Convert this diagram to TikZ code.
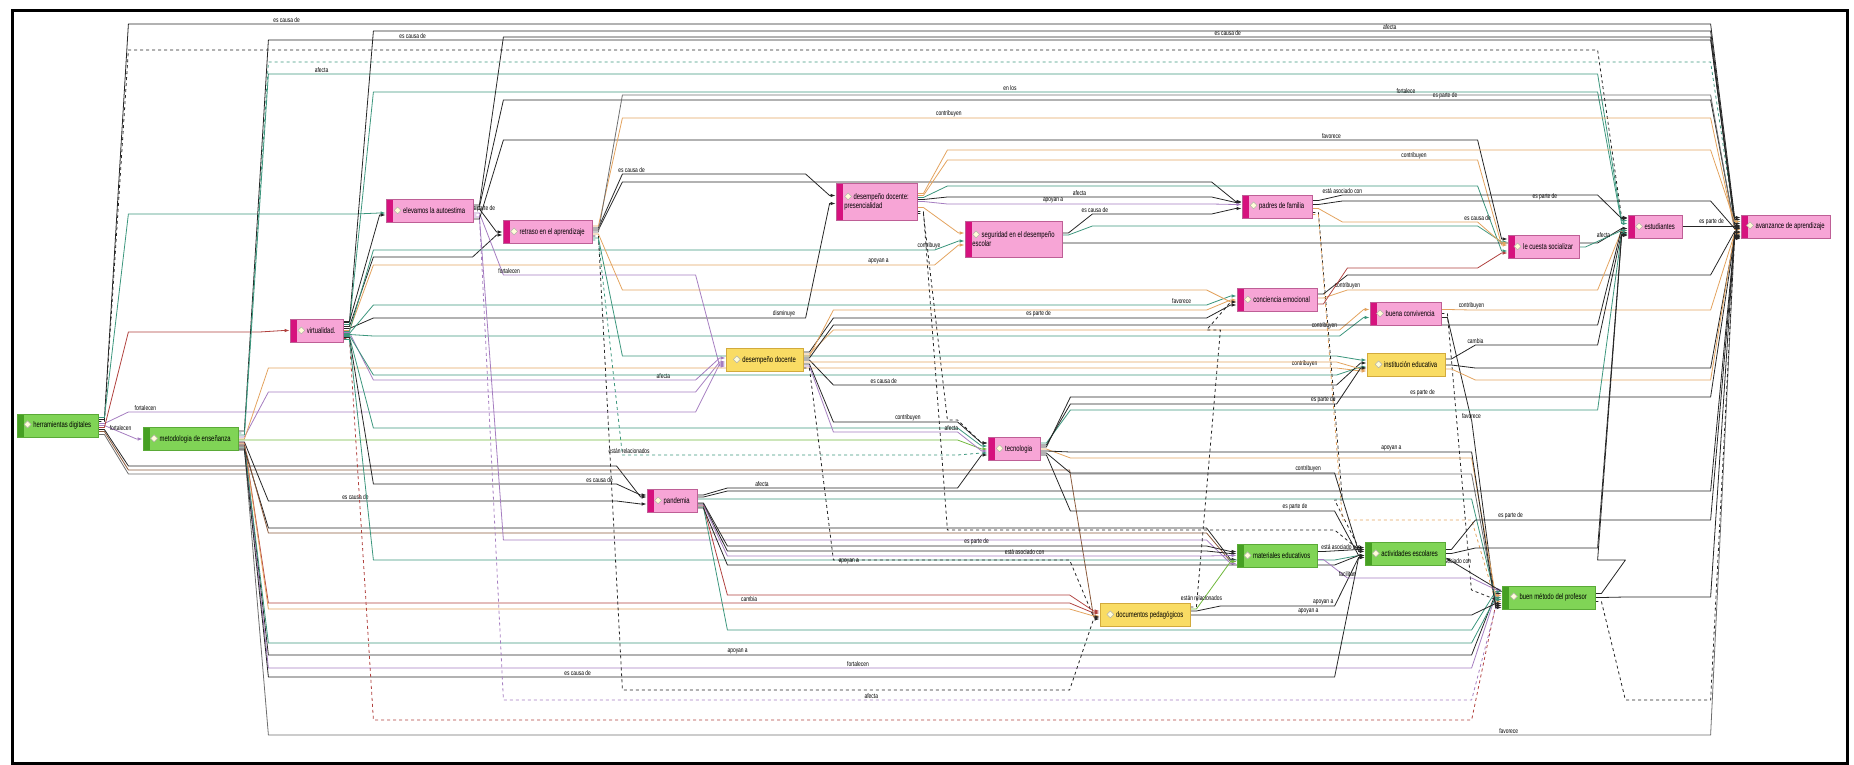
\documentclass[tikz,border=0pt]{standalone}
\usepackage{fontspec}
\usetikzlibrary{arrows.meta, calc, backgrounds}

\newfontfamily\netfont{Liberation Sans}[FakeStretch=0.72]
\newfontfamily\diafont{DejaVu Sans}

\definecolor{gfill}{RGB}{128,212,86}
\definecolor{gbar}{RGB}{70,160,35}
\definecolor{gline}{RGB}{90,170,55}
\definecolor{pfill}{RGB}{247,165,214}
\definecolor{pbar}{RGB}{214,18,126}
\definecolor{pline}{RGB}{190,95,150}
\definecolor{yfill}{RGB}{249,220,100}
\definecolor{ybar}{RGB}{242,175,30}
\definecolor{yline}{RGB}{210,170,60}
\definecolor{lpurple}{RGB}{165,125,192}
\definecolor{lorange}{RGB}{227,163,95}
\definecolor{lteal}{RGB}{60,150,125}
\definecolor{lred}{RGB}{176,65,62}
\definecolor{lgreen}{RGB}{112,184,60}
\definecolor{lbrown}{RGB}{139,90,60}
\definecolor{lgray}{RGB}{110,110,110}

\newcommand{\codeicon}{{\diafont\fontsize{10}{10}\selectfont
  \rlap{\textcolor{white!85!yellow}{◆}}\textcolor{black!40}{◇}}\ }

% routed relation: source, target, lane (y), label, label pos
\newcommand{\netrel}[6][]{%
  \path (#2) ++(6,0) coordinate (s0) ++(24,0) coordinate (s1)
        (#3) ++(-6,0) coordinate (t0) ++(-24,0) coordinate (t1);
  \draw[arr,#1] (#2) -- (s0) -- (s1 |- 0,#4)
     -- node[lbl,pos=#6]{#5} (t1 |- 0,#4) -- (t0) -- (#3);
}
% short relation between neighbours
\newcommand{\netdir}[5][]{%
  \path (#2) ++(6,0) coordinate (s0) (#3) ++(-6,0) coordinate (t0);
  \draw[arr,#1] (#2) -- (s0) -- node[lbl,pos=#5]{#4} (t0) -- (#3);
}

\begin{document}
\begin{tikzpicture}[
    x=1pt, y=-1pt,
    codebox/.style={draw, line width=0.8pt, minimum height=23pt, inner xsep=4pt,
                    align=left, font=\netfont\fontsize{8.2}{9.5}\selectfont},
    gnode/.style={codebox, fill=gfill, draw=gline, path picture={\fill[gbar]
        (path picture bounding box.south west) rectangle ([xshift=7pt]path picture bounding box.north west);}},
    pnode/.style={codebox, fill=pfill, draw=pline, path picture={\fill[pbar]
        (path picture bounding box.south west) rectangle ([xshift=7pt]path picture bounding box.north west);}},
    ynode/.style={codebox, fill=yfill, draw=yline, path picture={\fill[ybar]
        (path picture bounding box.south west) rectangle ([xshift=7pt]path picture bounding box.north west);}},
    lbl/.style={font=\netfont\fontsize{6.8}{7.5}\selectfont, anchor=south, inner sep=0.8pt, text=black},
    arr/.style={-{Latex[length=5pt,width=3.5pt]}, line width=0.8pt, draw=black!85, line join=round}
]
\useasboundingbox (0,0) rectangle (1854,765);
\draw[line width=3pt] (12,11) rectangle (1847,763);

% ============================================================
% codes
% ============================================================
\node[gnode, minimum width=81] (hd)   at (57.5,425.5) {\codeicon herramientas digitales};
\node[gnode, minimum width=95] (met)  at (190.5,439)  {\codeicon metodologia de enseñanza};
\node[pnode, minimum width=53] (vir)  at (316.5,330.5){\codeicon virtualidad.};
\node[pnode, minimum width=87] (auto) at (429.5,211)  {\codeicon elevamos la autoestima};
\node[pnode, minimum width=89] (ret)  at (547.5,232)  {\codeicon retraso en el aprendizaje};
\node[ynode, minimum width=77] (dd)   at (764.5,360)  {\codeicon desempeño docente};
\node[pnode, minimum width=81, minimum height=37] (ddp) at (876.5,201.5) {\codeicon desempeño docente:\\presencialidad};
\node[pnode, minimum width=97, minimum height=36] (seg) at (1013.5,239) {\codeicon seguridad en el desempeño\\escolar};
\node[pnode, minimum width=70] (pf)   at (1277,206.5) {\codeicon padres de familia};
\node[pnode, minimum width=80] (ce)   at (1277,300)   {\codeicon conciencia emocional};
\node[pnode, minimum width=71] (bc)   at (1405.5,313.5){\codeicon buena convivencia};
\node[ynode, minimum width=78] (ie)   at (1406,365)   {\codeicon institución educativa};
\node[pnode, minimum width=71] (lcs)  at (1543.5,247) {\codeicon le cuesta socializar};
\node[pnode, minimum width=54] (est)  at (1655,226.5) {\codeicon estudiantes};
\node[pnode, minimum width=89] (av)   at (1785.5,226.5){\codeicon avanzance de aprendizaje};
\node[pnode, minimum width=50] (pan)  at (672,501)    {\codeicon pandemia};
\node[pnode, minimum width=52] (tec)  at (1014,449)   {\codeicon tecnologia};
\node[gnode, minimum width=80] (mat)  at (1277,555.5) {\codeicon materiales educativos};
\node[ynode, minimum width=90] (doc)  at (1145,615)   {\codeicon documentos pedagógicos};
\node[gnode, minimum width=80] (act)  at (1405,553.5) {\codeicon actividades escolares};
\node[gnode, minimum width=93] (bmp)  at (1548.5,597.5){\codeicon buen método del profesor};

\begin{scope}[on background layer]
% ============================================================
% herramientas digitales
% ============================================================
\netrel{[yshift=6pt]hd.east}{[yshift=9pt]av.west}{24}{es causa de}{0.1}
\netrel[dashed]{[yshift=4pt]hd.east}{[yshift=9pt]est.west}{50}{}{.5}
\netrel[lpurple]{[yshift=2pt]hd.east}{[yshift=-4pt]dd.west}{412}{fortalecen}{0.03}
\netdir[lpurple]{hd.east}{met.west}{fortalecen}{0.5}
\netrel[lteal]{[yshift=8pt]hd.east}{[yshift=-2pt]auto.west}{214}{}{.5}
\netrel[lred]{[yshift=-2pt]hd.east}{vir.west}{332}{}{.5}
\netrel{[yshift=-4pt]hd.east}{[yshift=4pt]pan.west}{466}{}{.5}
\netrel[lbrown]{[yshift=-6pt]hd.east}{[yshift=-2pt]doc.west}{470}{}{.5}
\netrel[lgray]{[yshift=-9pt]hd.east}{[yshift=-6pt]bmp.west}{474}{}{.5}

% ============================================================
% metodologia de enseñanza
% ============================================================
\netrel{[yshift=8pt]met.east}{[yshift=7pt]av.west}{40}{es causa de}{0.1}
\netrel[dashed,lteal]{[yshift=6pt]met.east}{[yshift=5pt]av.west}{62}{}{.5}
\netrel[lteal]{[yshift=4pt]met.east}{[yshift=6pt]est.west}{74}{afecta}{0.04}
\netrel[lpurple]{[yshift=2pt]met.east}{[yshift=-2pt]dd.west}{392}{}{.5}
\netrel[lorange]{met.east}{[yshift=-6pt]ie.west}{368}{contribuyen}{0.97}
\netrel[lgreen]{[yshift=-1pt]met.east}{tec.west}{440}{}{.5}
\netrel{[yshift=-3pt]met.east}{[yshift=-3pt]pan.west}{501}{es causa de}{0.25}
\netrel[lred]{[yshift=-4pt]met.east}{[yshift=2pt]doc.west}{603}{cambia}{0.6}
\netrel[lorange]{[yshift=-5pt]met.east}{[yshift=-1pt]doc.west}{609}{}{.5}
\netrel{[yshift=-6pt]met.east}{[yshift=4pt]bmp.west}{655}{apoyan a}{0.39}
\netrel[lpurple]{[yshift=-7pt]met.east}{[yshift=2pt]bmp.west}{668}{fortalecen}{0.49}
\netrel[lteal]{[yshift=-8pt]met.east}{bmp.west}{643}{}{.5}
\netrel[lgray]{[yshift=-9pt]met.east}{[yshift=-8pt]av.west}{735}{favorece}{0.86}
\netrel{[yshift=-10pt]met.east}{[yshift=-4pt]mat.west}{528}{}{.5}
\netrel[lbrown]{[yshift=-7pt]met.east}{[yshift=-6pt]mat.west}{533}{}{.5}
\netrel{[yshift=-11pt]met.east}{[yshift=-4pt]act.west}{677}{es causa de}{0.29}

% ============================================================
% virtualidad
% ============================================================
\netrel{[yshift=8pt]vir.east}{[yshift=3pt]av.west}{31}{afecta}{0.76}
\netrel[lteal]{[yshift=6pt]vir.east}{[yshift=3pt]est.west}{92}{en los}{0.52}
\netrel{[yshift=4pt]vir.east}{[yshift=-3pt]ret.west}{257}{}{.5}
\netdir{[yshift=9pt]vir.east}{[yshift=-4pt]auto.west}{}{.5}
\netrel{[yshift=2pt]vir.east}{[yshift=-2pt]ddp.west}{318}{disminuye}{0.95}
\netrel[lorange]{vir.east}{[yshift=-6pt]seg.west}{265}{apoyan a}{0.9}
\netrel[lteal]{[yshift=-1pt]vir.east}{[yshift=-2pt]seg.west}{250}{contribuye}{0.99}
\netrel[lpurple]{[yshift=-2pt]vir.east}{[yshift=2pt]dd.west}{380}{afecta}{0.9}
\netrel[lteal]{[yshift=-3pt]vir.east}{[yshift=4pt]ce.west}{305}{favorece}{0.97}
\netrel[lteal]{[yshift=-4pt]vir.east}{[yshift=-4pt]bc.west}{336}{}{.5}
\netrel[lteal]{[yshift=-5pt]vir.east}{[yshift=-2pt]ie.west}{375}{}{.5}
\netrel[lteal]{[yshift=-6pt]vir.east}{[yshift=3pt]tec.west}{428}{}{.5}
\netrel{[yshift=-7pt]vir.east}{[yshift=6pt]pan.west}{484}{es causa de}{0.93}
\netrel[dashed,lred]{[yshift=-8pt]vir.east}{[yshift=-8pt]bmp.west}{720}{}{.5}
\netrel[lteal]{[yshift=-9pt]vir.east}{[yshift=-2pt]act.west}{560}{}{.5}

% ============================================================
% elevamos la autoestima / retraso en el aprendizaje
% ============================================================
\netrel{[yshift=6pt]auto.east}{[yshift=1pt]av.west}{37}{es causa de}{0.6}
\netrel{[yshift=4pt]auto.east}{[yshift=-1pt]av.west}{100}{es parte de}{0.78}
\netdir{[yshift=2pt]auto.east}{ret.west}{es parte de}{0.2}
\netrel[lpurple]{[yshift=-2pt]auto.east}{[yshift=-6pt]dd.west}{275}{fortalecen}{0.03}
\netrel[dashed,lpurple]{[yshift=-4pt]auto.east}{[yshift=-10pt]bmp.west}{700}{afecta}{0.38}
\netrel[lpurple]{[yshift=-6pt]auto.east}{[yshift=-8pt]mat.west}{540}{}{.5}
\netrel{[yshift=-8pt]auto.east}{[yshift=8pt]lcs.west}{140}{favorece}{0.85}

\netrel[lorange]{[yshift=6pt]ret.east}{[yshift=-3pt]av.west}{118}{contribuyen}{0.3}
\netrel{[yshift=4pt]ret.east}{[yshift=6pt]ddp.west}{174}{es causa de}{0.05}
\netrel{[yshift=2pt]ret.east}{[yshift=5pt]pf.west}{182}{}{.5}
\netrel[lgray]{ret.east}{[yshift=-2pt]av.west}{95}{fortalece}{0.72}
\netrel[lorange]{[yshift=-2pt]ret.east}{[yshift=-2pt]ce.west}{290}{}{.5}
\netrel[dashed]{[yshift=-4pt]ret.east}{[yshift=-4pt]doc.west}{690}{}{.5}
\netrel[lteal]{[yshift=-6pt]ret.east}{[yshift=5pt]ie.west}{356}{}{.5}
\netrel[dashed,lteal]{[yshift=-8pt]ret.east}{[yshift=-4pt]tec.west}{455}{están relacionados}{0.02}

% ============================================================
% desempeño docente: presencialidad / seguridad
% ============================================================
\netrel[lorange]{[yshift=8pt]ddp.east}{[yshift=5pt]av.west}{150}{}{.5}
\netrel[lorange]{[yshift=6pt]ddp.east}{[yshift=2pt]lcs.west}{160}{contribuyen}{0.88}
\netrel[lteal]{[yshift=4pt]ddp.east}{[yshift=-4pt]lcs.west}{186}{}{.5}
\netrel{[yshift=2pt]ddp.east}{[yshift=4pt]pf.west}{197}{afecta}{0.5}
\netrel[lpurple]{ddp.east}{[yshift=2pt]pf.west}{204}{apoyan a}{0.4}
\netdir[lorange]{[yshift=-6pt]ddp.east}{[yshift=6pt]seg.west}{}{.5}
\netrel[dashed]{[yshift=-10pt]ddp.east}{[yshift=4pt]act.west}{530}{}{.5}
\netrel[dashed]{[yshift=-12pt]ddp.east}{[yshift=6pt]tec.west}{420}{}{.5}

\netrel{[yshift=6pt]seg.east}{[yshift=-2pt]pf.west}{214}{es causa de}{0.02}
\netrel{[yshift=-4pt]seg.east}{[yshift=-2pt]est.west}{243}{}{.5}
\netrel[lteal]{[yshift=4pt]seg.east}{[yshift=5pt]lcs.west}{226}{}{.5}

% ============================================================
% padres, conciencia, convivencia, institucion
% ============================================================
\netrel{[yshift=6pt]pf.east}{[yshift=8pt]est.west}{195}{está asociado con}{0}
\netrel{[yshift=2pt]pf.east}{[yshift=-2pt]av.west}{201}{es parte de}{0.55}
\netrel[lorange]{[yshift=-2pt]pf.east}{[yshift=4pt]lcs.west}{222}{es causa de}{1}
\netrel[dashed]{[yshift=-6pt]pf.east}{[yshift=6pt]act.west}{500}{}{.5}
\netrel[dashed,lorange]{[yshift=-8pt]pf.east}{[yshift=-4pt]bmp.west}{520}{}{.5}

\netrel{[yshift=6pt]ce.east}{[yshift=-5pt]av.west}{275}{}{.5}
\netrel[lorange]{[yshift=2pt]ce.east}{[yshift=-4pt]est.west}{290}{contribuyen}{0}
\netrel[lred]{[yshift=-4pt]ce.east}{[yshift=-6pt]lcs.west}{268}{}{.5}

\netrel[lorange]{[yshift=4pt]bc.east}{[yshift=-7pt]av.west}{310}{contribuyen}{0}
\netrel{[yshift=-4pt]bc.east}{[yshift=-8pt]bmp.west}{420}{favorece}{0}
\netrel[dashed]{bc.east}{[yshift=-2pt]bmp.west}{590}{}{.5}

\netrel{[yshift=6pt]ie.east}{[yshift=-6pt]est.west}{345}{cambia}{0}
\netrel{ie.east}{[yshift=-9pt]av.west}{368}{}{.5}
\netrel[lorange]{[yshift=-4pt]ie.east}{[yshift=-6pt]av.west}{380}{}{.5}

% ============================================================
% desempeño docente
% ============================================================
\netrel{[yshift=8pt]dd.east}{[yshift=-5pt]ce.west}{318}{es parte de}{0.55}
\netrel[lorange]{[yshift=6pt]dd.east}{[yshift=4pt]bc.west}{330}{contribuyen}{0.97}
\netrel[lorange]{[yshift=4pt]dd.east}{ce.west}{310}{}{.5}
\netrel{[yshift=2pt]dd.east}{[yshift=-2pt]est.west}{325}{}{.5}
\netrel{dd.east}{[yshift=2pt]ie.west}{385}{es causa de}{0.1}
\netrel[lorange]{[yshift=-2pt]dd.east}{[yshift=-4pt]ie.west}{362}{}{.5}
\netrel{[yshift=-4pt]dd.east}{[yshift=6pt]tec.west}{422}{contribuyen}{0.6}
\netrel[lpurple]{[yshift=-6pt]dd.east}{[yshift=-2pt]tec.west}{432}{afecta}{0.95}
\netrel[dashed]{[yshift=-8pt]dd.east}{[yshift=-2pt]doc.west}{560}{}{.5}

% ============================================================
% pandemia / tecnologia
% ============================================================
\netrel{[yshift=6pt]pan.east}{[yshift=-6pt]tec.west}{488}{afecta}{0.15}
\netrel{[yshift=4pt]pan.east}{[yshift=-10pt]av.west}{491}{}{.5}
\netrel[lteal]{[yshift=2pt]pan.east}{[yshift=-2pt]bmp.west}{499}{}{.5}
\netrel{[yshift=-2pt]pan.east}{[yshift=4pt]mat.west}{546}{es parte de}{0.52}
\netrel{[yshift=-3pt]pan.east}{[yshift=2pt]mat.west}{551}{}{.5}
\netrel[lpurple]{[yshift=-4pt]pan.east}{mat.west}{556}{está asociado con}{0.62}
\netrel[lred]{[yshift=-5pt]pan.east}{[yshift=4pt]doc.west}{595}{}{.5}
\netrel[lteal]{[yshift=-6pt]pan.east}{[yshift=6pt]bmp.west}{630}{}{.5}
\netrel{[yshift=-7pt]pan.east}{[yshift=-2pt]act.west}{565}{apoyan a}{0.2}

\netrel[lteal]{[yshift=6pt]tec.east}{[yshift=-7pt]est.west}{410}{}{.5}
\netrel{[yshift=4pt]tec.east}{[yshift=-3pt]ie.west}{404}{es parte de}{0.95}
\netrel{[yshift=2pt]tec.east}{[yshift=-11pt]av.west}{397}{es parte de}{0.55}
\netrel[lorange]{tec.east}{[yshift=2pt]bmp.west}{458}{}{.5}
\netrel{[yshift=-2pt]tec.east}{[yshift=-10pt]bmp.west}{452}{apoyan a}{0.8}
\netrel{[yshift=-4pt]tec.east}{[yshift=2pt]act.west}{473}{contribuyen}{0.9}
\netrel{[yshift=-6pt]tec.east}{[yshift=-2pt]act.west}{511}{es parte de}{0.85}

% ============================================================
% documentos, materiales, actividades, buen metodo
% ============================================================
\netrel{doc.east}{[yshift=-6pt]bmp.west}{615}{apoyan a}{0.35}
\netrel{[yshift=4pt]doc.east}{[yshift=-4pt]act.west}{606}{apoyan a}{0.9}
\netdir[lgreen]{[yshift=6pt]doc.east}{[yshift=-6pt]mat.west}{están relacionados}{0.15}
\netrel[dashed]{[yshift=8pt]doc.east}{[yshift=-2pt]ce.west}{330}{}{.5}

\netdir{[yshift=4pt]mat.east}{[yshift=4pt]act.west}{está asociado con}{0.5}
\netrel[lpurple]{[yshift=-4pt]mat.east}{[yshift=8pt]bmp.west}{578}{facilitan}{0}

\netrel{[yshift=4pt]act.east}{[yshift=-12pt]av.west}{520}{es parte de}{0.15}
\netrel{act.east}{[yshift=-8pt]est.west}{548}{}{.5}
\draw[arr] ([yshift=6pt]bmp.west) -- node[lbl,pos=0.8]{asociado con} ([yshift=-4pt]act.east);

\netrel{bmp.east}{[yshift=-6pt]av.west}{597}{}{.5}
\netrel[dashed]{[yshift=-4pt]bmp.east}{[yshift=-10pt]av.west}{700}{}{.5}
\netrel{[yshift=4pt]bmp.east}{[yshift=-9pt]est.west}{560}{}{.5}

\netdir[lteal]{lcs.east}{[yshift=-4pt]est.west}{afecta}{0.5}
\netdir{est.east}{av.west}{es parte de}{0.5}
\end{scope}

\end{tikzpicture}
\end{document}
